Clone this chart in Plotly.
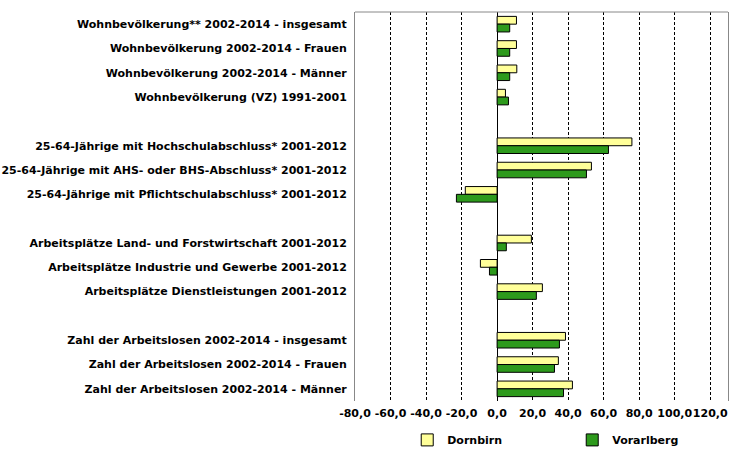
import plotly.graph_objects as go

categories = [
    "Wohnbevölkerung** 2002-2014 - insgesamt",
    "Wohnbevölkerung 2002-2014 - Frauen",
    "Wohnbevölkerung 2002-2014 - Männer",
    "Wohnbevölkerung (VZ) 1991-2001",
    " ",
    "25-64-Jährige mit Hochschulabschluss* 2001-2012",
    "25-64-Jährige mit AHS- oder BHS-Abschluss* 2001-2012",
    "25-64-Jährige mit Pflichtschulabschluss* 2001-2012",
    "  ",
    "Arbeitsplätze Land- und Forstwirtschaft 2001-2012",
    "Arbeitsplätze Industrie und Gewerbe 2001-2012",
    "Arbeitsplätze Dienstleistungen 2001-2012",
    "   ",
    "Zahl der Arbeitslosen 2002-2014 - insgesamt",
    "Zahl der Arbeitslosen 2002-2014 - Frauen",
    "Zahl der Arbeitslosen 2002-2014 - Männer",
]

dornbirn = [10.9, 10.9, 11.1, 4.7, None, 75.9, 53.1, -17.9, None,
            19.3, -9.4, 25.5, None, 38.5, 34.5, 42.4]
vorarlberg = [7.1, 7.1, 7.1, 6.4, None, 62.7, 50.3, -22.9, None,
              5.2, -4.3, 22.1, None, 35.1, 32.3, 37.4]

x_tickvals = [-80, -60, -40, -20, 0, 20, 40, 60, 80, 100, 120]
x_ticktext = ["-80,0", "-60,0", "-40,0", "-20,0", "0,0", "20,0", "40,0",
              "60,0", "80,0", "100,0", "120,0"]
x_range = [-80, 130]

FONT = "DejaVu Sans"
font = dict(family=FONT, size=11, color="black", weight="bold")

fig = go.Figure()
fig.add_trace(go.Bar(
    name="Dornbirn", y=categories, x=dornbirn, orientation="h",
    marker=dict(color="#FFFF99", line=dict(color="black", width=1)),
))
fig.add_trace(go.Bar(
    name="Vorarlberg", y=categories, x=vorarlberg, orientation="h",
    marker=dict(color="#2D9A1C", line=dict(color="black", width=1)),
))

n = len(categories)
boundaries = [i - 0.5 for i in range(n + 1)]

fig.update_layout(
    width=755, height=458,
    margin=dict(l=355, r=27, t=12, b=57, autoexpand=False),
    paper_bgcolor="white", plot_bgcolor="white",
    barmode="group", bargap=0.36, bargroupgap=0,
    font=font,
    showlegend=True,
    legend=dict(orientation="h", x=0.14, xanchor="left", y=-0.1, yanchor="middle",
                entrywidth=120, entrywidthmode="pixels",
                font=font, traceorder="normal", itemwidth=30),
    xaxis=dict(
        range=x_range, tickvals=x_tickvals, ticktext=x_ticktext, tickangle=0,
        showgrid=True, gridcolor="black", griddash="3px,2px", gridwidth=1,
        zeroline=True, zerolinecolor="black", zerolinewidth=1,
        showline=False, ticks="", tickfont=font, ticklabelstandoff=4,
        domain=[0, 1], automargin=False,
    ),
    yaxis=dict(
        type="category", categoryorder="array", categoryarray=categories,
        autorange="reversed", range=[n - 0.5, -0.5],
        showgrid=False, zeroline=False, automargin=False,
        showline=True, mirror=True, linecolor="#888888", linewidth=1,
        ticks="", tickfont=font, ticklabelstandoff=5,
    ),
    yaxis2=dict(
        overlaying="y", anchor="free", automargin=False,
        position=(0 - x_range[0]) / (x_range[1] - x_range[0]),
        range=[n - 0.5, -0.5], tickvals=boundaries, showticklabels=False,
        ticks="outside", ticklen=4, tickcolor="black", tickwidth=1,
        showline=True, linecolor="black", linewidth=1,
        showgrid=False, zeroline=False, side="left",
    ),
    shapes=[dict(type="line", xref="paper", yref="paper", x0=0, x1=1, y0=1, y1=1,
                 line=dict(color="#888888", width=1))],
)

fig.write_html("out.html")
